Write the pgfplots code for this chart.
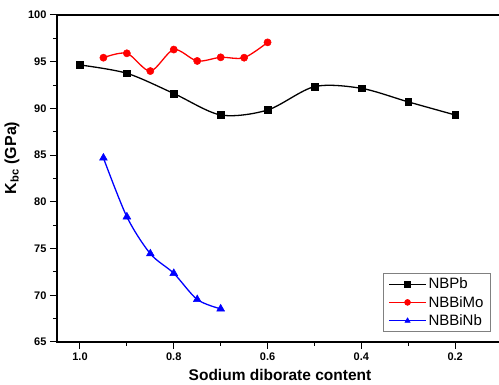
\documentclass[border=0pt]{standalone}
\usepackage{fontspec}
\setmainfont{Liberation Sans}
\usepackage{pgfplots}
\pgfplotsset{compat=1.18}
\begin{document}
\begin{tikzpicture}
\begin{axis}[
  scale only axis,
  width=446pt, height=327pt,
  x dir=reverse,
  xmin=0.098, xmax=1.049,
  ymin=65, ymax=100,
  xtick={0.2,0.4,0.6,0.8,1.0},
  ytick={65,70,75,80,85,90,95,100},
  minor x tick num=1, minor y tick num=1,
  tick align=outside,
  xtick pos=bottom, ytick pos=left,
  major tick length=7pt, minor tick length=4pt,
  every tick/.style={black, line width=1pt},
  axis line style={line width=1.2pt},
  /pgf/number format/assume math mode=true,
  xticklabel style={font=\bfseries\fontsize{11}{13}\selectfont, /pgf/number format/fixed, /pgf/number format/fixed zerofill, /pgf/number format/precision=1},
  yticklabel style={font=\bfseries\fontsize{11}{13}\selectfont},
  xlabel={Sodium diborate content},
  ylabel={K\textsubscript{bc} (GPa)},
  xlabel style={font=\bfseries\fontsize{15.5}{17}\selectfont, at={(axis description cs:0.5,-0.119)}, anchor=base},
  ylabel style={font=\bfseries\fontsize{16}{18}\selectfont, at={(axis description cs:-0.101,0.563)}, anchor=center, rotate=0},
  legend style={at={(0.973,0.031)}, anchor=south east, draw=gray, line width=0.8pt, font=\fontsize{15}{17}\selectfont, row sep=2pt, inner xsep=5pt, inner ysep=2.5pt},
  legend cell align=left,
  legend image code/.code={\draw[line width=1pt, mark repeat=2, mark phase=2, mark size=3pt] plot coordinates {(0pt,0pt) (18.5pt,0pt) (37pt,0pt)};},
]
\addplot[black, line width=1.3pt, smooth, tension=0.5, mark=square*, mark size=3.4pt, mark options={solid, line width=0.5pt}]
coordinates {(1.0,94.65) (0.9,93.76) (0.8,91.6) (0.7,89.3) (0.6,89.83) (0.5,92.33) (0.4,92.15) (0.3,90.7) (0.2,89.3)};
\addlegendentry{NBPb}
\addplot[red, line width=1.3pt, smooth, tension=0.5, mark=*, mark size=3.6pt, mark options={solid, line width=0.5pt}]
coordinates {(0.95,95.43) (0.9,95.9) (0.85,94.0) (0.8,96.3) (0.75,95.08) (0.7,95.47) (0.65,95.43) (0.6,97.07)};
\addlegendentry{NBBiMo}
\addplot[blue, line width=1.3pt, smooth, tension=0.5, mark=triangle*, mark size=4.5pt, mark options={solid, line width=0.5pt}]
coordinates {(0.95,84.7) (0.9,78.4) (0.85,74.45) (0.8,72.35) (0.75,69.55) (0.7,68.55)};
\addlegendentry{NBBiNb}
\end{axis}
\pgfresetboundingbox
\path (-57pt,-43pt) rectangle (442pt,342pt);
\end{tikzpicture}
\end{document}
